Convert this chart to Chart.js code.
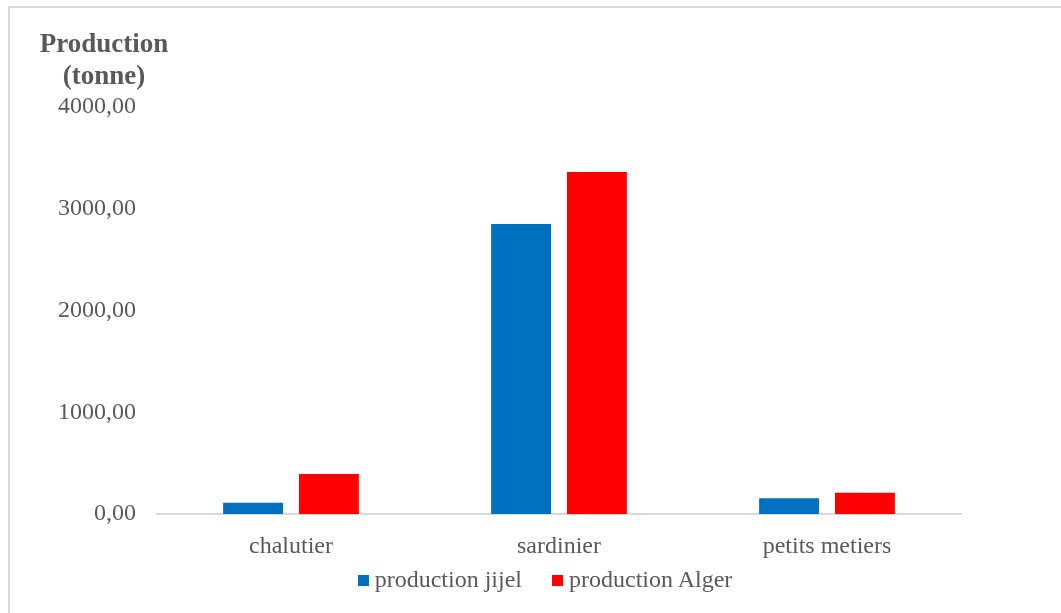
<!DOCTYPE html>
<html>
<head>
<meta charset="utf-8">
<script src="https://cdn.jsdelivr.net/npm/chart.js@4/dist/chart.umd.min.js"></script>
<style>
  html, body { margin: 0; padding: 0; background: #ffffff; }
  #wrap { position: relative; width: 1061px; height: 613px; overflow: hidden; background: #fff; }
  #frame { position: absolute; left: 8px; top: 6px; width: 1080px; height: 640px; border: 2px solid #d9d9d9; box-sizing: border-box; }
  #chart { position: absolute; left: 0; top: 0; }
  #ytitle { position: absolute; left: 24px; top: 27px; width: 160px; text-align: center;
            font: bold 27px "Liberation Serif", "Times New Roman", serif; color: #595959; line-height: 32px; }
  #legend { position: absolute; left: 0; top: 565px; width: 1090px; text-align: center;
            font: 24px "Liberation Serif", "Times New Roman", serif; color: #595959; line-height: 28px; white-space: nowrap; }
  .item { display: inline-block; margin: 0 15px; }
  .box { display: inline-block; width: 11px; height: 11px; margin-right: 6px; vertical-align: 1px; }
</style>
</head>
<body>
<div id="wrap">
  <div id="frame"></div>
  <canvas id="chart" width="1061" height="613"></canvas>
  <div id="ytitle">Production<br>(tonne)</div>
  <div id="legend"></div>
</div>
<script>
// Fishing fleet segments and production (tonnes)
const categories = ["chalutier", "sardinier", "petits metiers"];
const seriesNames = ["production jijel", "production Alger"];
const productionJijel = [111, 2850, 154];
const productionAlger = [393, 3361, 209];
const seriesColors = ["#0070c0", "#ff0000"];
const yTicks = [0, 1000, 2000, 3000, 4000];

const serif = '"Liberation Serif", "Times New Roman", serif';
const textColor = "#595959";

const chart = new Chart(document.getElementById("chart"), {
  type: "bar",
  data: {
    labels: categories,
    datasets: [
      { label: seriesNames[0], data: productionJijel, backgroundColor: seriesColors[0] },
      { label: seriesNames[1], data: productionAlger, backgroundColor: seriesColors[1] }
    ]
  },
  options: {
    responsive: false,
    animation: false,
    layout: { padding: { left: 20, right: 100, top: 107, bottom: 54 } },
    datasets: { bar: { categoryPercentage: 0.566, barPercentage: 0.79 } },
    plugins: { legend: { display: false }, title: { display: false }, tooltip: { enabled: false } },
    scales: {
      x: {
        grid: { display: false, drawTicks: false },
        border: { display: true, color: "#d9d9d9", width: 2 },
        ticks: { color: textColor, font: { family: serif, size: 24 }, padding: 18 },
        afterFit: s => { s.height = 45; }
      },
      y: {
        min: 0, max: 4000,
        grid: { display: false, drawTicks: false },
        border: { display: false },
        afterBuildTicks: s => { s.ticks = yTicks.map(v => ({ value: v })); },
        ticks: {
          color: textColor, font: { family: serif, size: 24 }, padding: 21,
          callback: v => v.toFixed(2).replace(".", ",")
        },
        afterFit: s => { s.width = 137; }
      }
    }
  }
});

// Legend built from the dataset names and colours
const legend = document.getElementById("legend");
seriesNames.forEach((name, i) => {
  const item = document.createElement("span");
  item.className = "item";
  const box = document.createElement("span");
  box.className = "box";
  box.style.background = seriesColors[i];
  item.appendChild(box);
  item.appendChild(document.createTextNode(name));
  legend.appendChild(item);
});
</script>
</body>
</html>
